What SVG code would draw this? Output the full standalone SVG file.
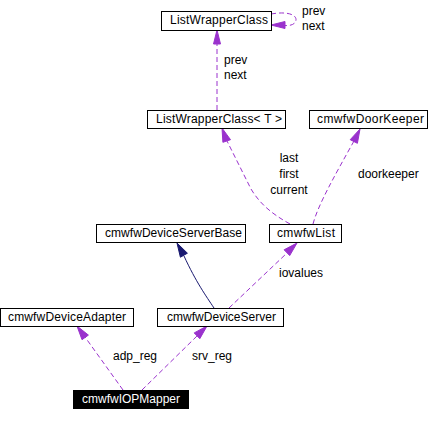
<svg xmlns="http://www.w3.org/2000/svg" width="444" height="421" viewBox="0 0 444 421">
<style>
.box{fill:#ffffff;stroke:#000000;stroke-width:1}
.dark{fill:#000000;stroke:#000000;stroke-width:1}
.t{font-family:"Liberation Sans",Arial,sans-serif;font-size:12px;fill:#000000}
.tw{font-family:"Liberation Sans",Arial,sans-serif;font-size:12px;fill:#ffffff}
.lbl{font-family:"Liberation Sans",Arial,sans-serif;font-size:12px;fill:#000000}
.use{fill:none;stroke:#9a32cd;stroke-width:1;stroke-dasharray:5,3}
.useh{fill:#9a32cd;stroke:#9a32cd;stroke-width:1}
.inh{fill:none;stroke:#191970;stroke-width:1}
.inhh{fill:#191970;stroke:#191970;stroke-width:1}
</style>
<rect width="444" height="421" fill="#ffffff"/>
<g id="connectors">
  <!-- self loop on ListWrapperClass -->
  <path class="use" d="M271,14 C288,11 296,15 296,19.5 C296,24 291,26 285,25.5"/>
  <polygon class="useh" points="271,25 285,21.5 285,28.5"/>
  <text class="lbl" x="302" y="15">prev</text>
  <text class="lbl" x="302" y="30">next</text>
  <!-- ListWrapperClass<T> -> ListWrapperClass -->
  <path class="use" d="M217,110 L217,44"/>
  <polygon class="useh" points="217,30 213.5,44 220.5,44"/>
  <text class="lbl" x="224" y="64">prev</text>
  <text class="lbl" x="224" y="79">next</text>
  <!-- cmwfwList -> ListWrapperClass<T> -->
  <path class="use" d="M290,224 C272,214 260,204 251,189 L227,141"/>
  <polygon class="useh" points="222,128 230.5,139.7 222.9,142.3"/>
  <text class="lbl" x="289" y="162" text-anchor="middle">last</text>
  <text class="lbl" x="289" y="178" text-anchor="middle">first</text>
  <text class="lbl" x="289" y="194" text-anchor="middle">current</text>
  <!-- cmwfwList -> cmwfwDoorKeeper -->
  <path class="use" d="M313,224 C318,205 335,175 354,141"/>
  <polygon class="useh" points="360,129 357.4,143.3 350.2,139.7"/>
  <text class="lbl" x="358" y="178">doorkeeper</text>
  <!-- cmwfwDeviceServer -> cmwfwDeviceServerBase (inheritance) -->
  <path class="inh" d="M214,308 C206,296 196,282 184,256"/>
  <polygon class="inhh" points="177,243 187.4,253.2 180.4,257.2"/>
  <!-- cmwfwDeviceServer -> cmwfwList -->
  <path class="use" d="M229,308 L287,253"/>
  <polygon class="useh" points="297,243 289.7,255.6 284.1,249.8"/>
  <text class="lbl" x="279" y="277">iovalues</text>
  <!-- cmwfwIOPMapper -> cmwfwDeviceAdapter -->
  <path class="use" d="M123,390 L85,337"/>
  <polygon class="useh" points="77,326 88.4,335.1 82,339.7"/>
  <text class="lbl" x="113" y="360">adp_reg</text>
  <!-- cmwfwIOPMapper -> cmwfwDeviceServer -->
  <path class="use" d="M142,390 L197,336"/>
  <polygon class="useh" points="207,326 199.8,338.7 194.2,332.9"/>
  <text class="lbl" x="192" y="360">srv_reg</text>
</g>
<g id="ListWrapperClass">
  <rect class="box" x="161.5" y="11.5" width="110" height="19"/>
  <text class="t" x="170" y="24" textLength="98">ListWrapperClass</text>
</g>
<g id="ListWrapperClassT">
  <rect class="box" x="147.5" y="110.5" width="138" height="18"/>
  <text class="t" x="156" y="123" textLength="126">ListWrapperClass&lt; T &gt;</text>
</g>
<g id="cmwfwDoorKeeper">
  <rect class="box" x="309.5" y="110.5" width="118" height="18"/>
  <text class="t" x="317" y="123" textLength="107">cmwfwDoorKeeper</text>
</g>
<g id="cmwfwDeviceServerBase">
  <rect class="box" x="96.5" y="224.5" width="149" height="18"/>
  <text class="t" x="105" y="237" textLength="137">cmwfwDeviceServerBase</text>
</g>
<g id="cmwfwList">
  <rect class="box" x="269.5" y="224.5" width="72" height="18"/>
  <text class="t" x="277" y="237" textLength="58">cmwfwList</text>
</g>
<g id="cmwfwDeviceAdapter">
  <rect class="box" x="0.5" y="308.5" width="133" height="18"/>
  <text class="t" x="8" y="321" textLength="118">cmwfwDeviceAdapter</text>
</g>
<g id="cmwfwDeviceServer">
  <rect class="box" x="157.5" y="308.5" width="126" height="18"/>
  <text class="t" x="167" y="321" textLength="109">cmwfwDeviceServer</text>
</g>
<g id="cmwfwIOPMapper">
  <rect class="dark" x="73.5" y="390.5" width="115" height="18"/>
  <text class="tw" x="82" y="403" textLength="98">cmwfwIOPMapper</text>
</g>
</svg>
